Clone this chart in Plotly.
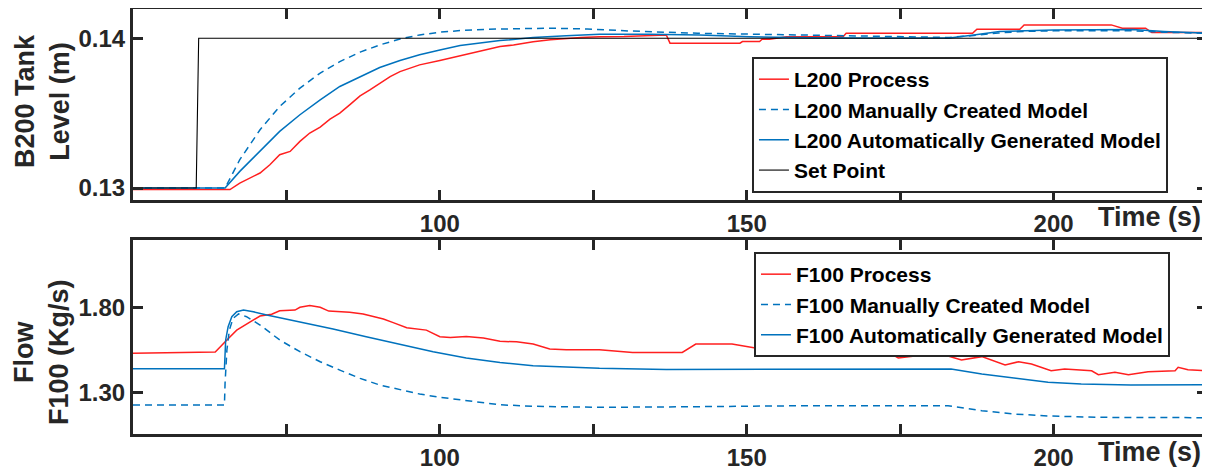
import plotly.graph_objects as go

# ---------------- data ----------------
# Top panel: B200 tank level
t_sp = [50, 60.3, 60.7, 225]
l200_sp = [0.13, 0.13, 0.14, 0.14]

t_l200_man = [50, 65.0, 67.4, 70.7, 73.9, 77.2, 80.5, 83.7, 87, 90.2, 93.5, 96.7, 100, 103.3,
              108, 113, 118, 124, 131, 142, 150, 160, 170, 183, 187, 191, 195, 200, 213, 218, 225]
l200_man = [0.13, 0.13, 0.13189, 0.13389, 0.13544, 0.13667, 0.13767, 0.13844, 0.13907, 0.13955,
            0.13995, 0.14022, 0.1404, 0.14051, 0.1406, 0.14065, 0.14067, 0.14062, 0.14048, 0.14033,
            0.14027, 0.1402, 0.14012, 0.14005, 0.14018, 0.14035, 0.14045, 0.14049, 0.14049, 0.1404, 0.14033]

t_l200_auto = [50, 65.0, 67.4, 70.7, 73.9, 77.2, 80.5, 83.7, 87, 90.2, 93.5, 96.7, 100, 103.3,
               109.8, 115.2, 120.6, 126, 134, 142.3, 150.5, 160, 170, 183, 187, 191.2, 200, 212.9, 218, 225]
l200_auto = [0.13, 0.13, 0.13111, 0.13244, 0.13378, 0.13489, 0.13589, 0.13678, 0.13744, 0.13804,
             0.13851, 0.13889, 0.13922, 0.13951, 0.13984, 0.14004, 0.14017, 0.14027, 0.14027, 0.14022,
             0.1401, 0.14003, 0.14001, 0.14002, 0.14022, 0.14045, 0.14055, 0.14058, 0.14045, 0.14033]

t_l200_proc = [50, 65.8, 67.4, 70.7, 72.3, 73.9, 75.6, 77.2, 78.8, 80.5, 82.1, 83.7, 85.3, 87, 88.6,
               90.2, 91.9, 93.5, 96.7, 100, 103.3, 106, 109.8, 112, 115.2, 118, 120.6, 123, 126, 130,
               136.9, 137.5, 148.9, 149.3, 152.1, 152.5, 153.7, 156.5, 165.7, 166.2, 186.8, 187.5,
               194.5, 195.2, 209.4, 211.2, 215, 216, 225]
l200_proc = [0.1299, 0.1299, 0.13033, 0.131, 0.13155, 0.13222, 0.13244, 0.13311, 0.13367, 0.13407,
             0.1346, 0.135, 0.13555, 0.13615, 0.13655, 0.137, 0.13744, 0.13777, 0.13822, 0.13851,
             0.13882, 0.1391, 0.13944, 0.13955, 0.13977, 0.1399, 0.14, 0.14005, 0.1401, 0.14012,
             0.14022, 0.13967, 0.13967, 0.13978, 0.13978, 0.13993, 0.13993, 0.1401, 0.1401, 0.14033,
             0.14033, 0.1406, 0.1406, 0.14089, 0.14089, 0.14067, 0.14067, 0.14038, 0.14038]

# Bottom panel: F100 flow
t_f100_proc = [50, 60.9, 63.4, 65.3, 66.9, 69.1, 70.7, 72.6, 73.9, 76.4, 77.2, 78.8, 80.5, 81.9,
               85.3, 87.5, 89.1, 90.8, 92.4, 94.6, 97.8, 100, 101.7, 104.3, 107.1, 109.8, 112.5,
               115.2, 117.9, 120.6, 126, 131.4, 139.5, 141.7, 147.6, 151.4, 154.6, 158.4, 163.8,
               169.3, 173.6, 174.7, 177.4, 182.8, 185, 188.3, 192.1, 194.3, 196.4, 199.6, 201.8,
               206.2, 207.3, 210, 212.2, 215.4, 219.8, 220.3, 221.9, 225]
f100_proc = [1.530, 1.539, 1.537, 1.608, 1.666, 1.715, 1.749, 1.759, 1.78, 1.784, 1.8, 1.81, 1.8,
             1.778, 1.771, 1.761, 1.745, 1.731, 1.71, 1.68, 1.666, 1.627, 1.623, 1.629, 1.619, 1.6,
             1.597, 1.584, 1.555, 1.551, 1.551, 1.535, 1.535, 1.584, 1.584, 1.561, 1.578, 1.555,
             1.541, 1.545, 1.525, 1.502, 1.514, 1.514, 1.49, 1.51, 1.461, 1.48, 1.467, 1.427, 1.437,
             1.427, 1.404, 1.418, 1.404, 1.421, 1.427, 1.447, 1.433, 1.427]

t_f100_man = [50, 64.9, 65.0, 65.3, 65.7, 66.3, 67.2, 68.5, 70.7, 73.9, 77.2, 80.5, 83.7, 87, 90.2,
              93.5, 96.7, 100, 103.3, 109.8, 115.2, 126, 140, 158.4, 182.8, 188.3, 193.7, 199.1, 207.3, 225]
f100_man = [1.225, 1.225, 1.353, 1.549, 1.666, 1.735, 1.761, 1.745, 1.696, 1.608, 1.539, 1.48, 1.431,
            1.382, 1.343, 1.314, 1.29, 1.271, 1.255, 1.227, 1.218, 1.212, 1.215, 1.221, 1.221, 1.192,
            1.172, 1.161, 1.153, 1.151]

t_f100_auto = [50, 64.9, 65.1, 65.5, 66.1, 66.9, 68, 69.6, 71.8, 77.2, 82.6, 88, 93.5, 98.9, 104.3,
               109.8, 115.2, 120.6, 126, 136.9, 158.4, 183.3, 188.3, 193.7, 199.1, 204.5, 212.6, 225]
f100_auto = [1.439, 1.439, 1.608, 1.686, 1.745, 1.774, 1.784, 1.774, 1.755, 1.715, 1.672, 1.627,
             1.582, 1.539, 1.502, 1.476, 1.457, 1.447, 1.441, 1.435, 1.437, 1.437, 1.408, 1.384,
             1.359, 1.349, 1.343, 1.345]

x_tickvals = [75, 100, 125, 150, 175, 200]
x_ticktext = ["", "100", "", "150", "", "200"]
top_tickvals = [0.13, 0.14]
top_ticktext = ["0.13", "0.14"]
bot_tickvals = [1.3, 1.8]
bot_ticktext = ["1.30", "1.80"]

# ---------------- style ----------------
RED = "#FF1F1F"
BLUE = "#0072BD"
AX = "#262626"
FONT = "Liberation Sans, Arial, sans-serif"

fig = go.Figure()

fig.add_trace(go.Scatter(x=t_l200_proc, y=l200_proc, mode="lines", name="L200 Process",
                         line=dict(color=RED, width=1.5), xaxis="x", yaxis="y", legend="legend"))
fig.add_trace(go.Scatter(x=t_l200_man, y=l200_man, mode="lines", name="L200 Manually Created Model",
                         line=dict(color=BLUE, width=1.5, dash="7px,5px"), xaxis="x", yaxis="y", legend="legend"))
fig.add_trace(go.Scatter(x=t_l200_auto, y=l200_auto, mode="lines", name="L200 Automatically Generated Model",
                         line=dict(color=BLUE, width=1.5), xaxis="x", yaxis="y", legend="legend"))
fig.add_trace(go.Scatter(x=t_sp, y=l200_sp, mode="lines", name="Set Point",
                         line=dict(color="#000000", width=1.1), xaxis="x", yaxis="y", legend="legend"))

fig.add_trace(go.Scatter(x=t_f100_proc, y=f100_proc, mode="lines", name="F100 Process",
                         line=dict(color=RED, width=1.5), xaxis="x2", yaxis="y2", legend="legend2"))
fig.add_trace(go.Scatter(x=t_f100_man, y=f100_man, mode="lines", name="F100 Manually Created Model",
                         line=dict(color=BLUE, width=1.5, dash="7px,5px"), xaxis="x2", yaxis="y2", legend="legend2"))
fig.add_trace(go.Scatter(x=t_f100_auto, y=f100_auto, mode="lines", name="F100 Automatically Generated Model",
                         line=dict(color=BLUE, width=1.5), xaxis="x2", yaxis="y2", legend="legend2"))

tickfont = dict(family=FONT, size=24, color=AX, weight="bold")
common_x = dict(range=[50, 225], tickvals=x_tickvals, ticktext=x_ticktext, ticks="inside",
                ticklen=10, tickwidth=3, tickcolor=AX, showline=True, linewidth=3, linecolor=AX,
                mirror="ticks", showgrid=False, zeroline=False, tickfont=tickfont)
common_y = dict(ticks="inside", ticklen=10, tickwidth=3, tickcolor=AX, showline=True, linewidth=3,
                linecolor=AX, mirror="ticks", showgrid=False, zeroline=False, tickfont=tickfont)

legfont = dict(family=FONT, size=21, color="#000000", weight="bold")
# The page body adds an 8px margin, so the figure is sized 8px smaller and shifted accordingly.
fig.update_layout(
    width=1202, height=466,
    margin=dict(l=125, r=3, t=1, b=40, autoexpand=False),
    paper_bgcolor="white", plot_bgcolor="white",
    xaxis=dict(domain=[0, 1], anchor="y", **common_x),
    yaxis=dict(domain=[0.5506, 1], anchor="x", range=[0.1292, 0.14195],
               tickvals=top_tickvals, ticktext=top_ticktext, **common_y),
    xaxis2=dict(domain=[0, 1], anchor="y2", **common_x),
    yaxis2=dict(domain=[0, 0.4565], anchor="x2", range=[1.055, 2.196],
                tickvals=bot_tickvals, ticktext=bot_ticktext, **common_y),
    legend=dict(x=0.5763, y=0.887, xanchor="left", yanchor="top", bgcolor="white",
                bordercolor=AX, borderwidth=2, font=legfont, tracegroupgap=0, itemwidth=30),
    legend2=dict(x=0.5782, y=0.4282, xanchor="left", yanchor="top", bgcolor="white",
                 bordercolor=AX, borderwidth=2, font=legfont, tracegroupgap=0, itemwidth=30),
    annotations=[
        dict(text="B200 Tank<br>Level (m)", xref="paper", yref="paper", x=-0.0847, y=0.7835,
             xanchor="center", yanchor="middle", textangle=-90, showarrow=False,
             font=dict(family=FONT, size=27, color=AX, weight="bold")),
        dict(text="Flow<br>F100 (Kg/s)", xref="paper", yref="paper", x=-0.0847, y=0.193,
             xanchor="center", yanchor="middle", textangle=-90, showarrow=False,
             font=dict(family=FONT, size=27, color=AX, weight="bold")),
        dict(text="Time (s)", xref="paper", yref="paper", x=0.9963, y=0.5106,
             xanchor="right", yanchor="middle", showarrow=False,
             font=dict(family=FONT, size=27, color=AX, weight="bold")),
        dict(text="Time (s)", xref="paper", yref="paper", x=0.9963, y=-0.0424,
             xanchor="right", yanchor="middle", showarrow=False,
             font=dict(family=FONT, size=27, color=AX, weight="bold")),
    ],
)

fig.write_html("out.html")
